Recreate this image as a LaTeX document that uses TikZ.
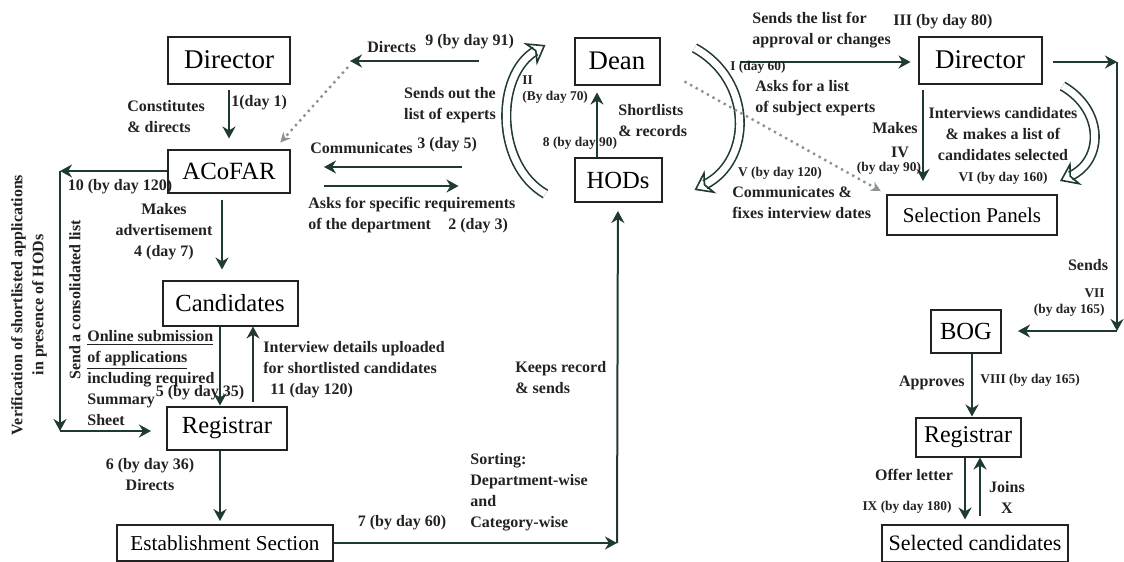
\documentclass[tikz,border=0pt]{standalone}
\usepackage{fontspec}
\setmainfont{Liberation Serif}
\usetikzlibrary{arrows.meta}
\definecolor{ink}{HTML}{222222}
\definecolor{arrowc}{HTML}{1E3A32}
\definecolor{dotc}{HTML}{8C9490}
\begin{document}
\begin{tikzpicture}[x=0.5pt,y=-0.5pt,box/.style={draw=ink,line width=1pt,text=black,inner sep=1pt,font=\fontsize{12.3}{14}\selectfont},lbl/.style={text=ink,inner sep=0pt,font=\fontsize{8}{10.5}\selectfont\bfseries},tiny/.style={text=ink,inner sep=0pt,font=\fontsize{6.7}{8}\selectfont\bfseries},arr/.style={draw=arrowc,line width=1pt,-{Stealth[length=6pt,width=6.5pt]}},dotarr/.style={draw=dotc,line width=1.2pt,dotted,-{Stealth[length=5pt,width=5pt]}},hollow/.style={draw=arrowc,line width=0.8pt,double=white,double distance=3.5pt,-{Stealth[open,length=9pt,width=13pt]}}]
\useasboundingbox (0,0) rectangle (1124,562);
\node[box,minimum width=61pt,minimum height=23.5pt,font=\fontsize{13.5}{15}\selectfont] (dirL) at (229,60) {Director};
\node[box,minimum width=61pt,minimum height=21.5pt,font=\fontsize{12.4}{14}\selectfont] (acofar) at (229,171) {ACoFAR};
\node[box,minimum width=67.5pt,minimum height=22.5pt] (cand) at (230,303) {Candidates};
\node[box,minimum width=60pt,minimum height=21.5pt] (regL) at (227,428) {Registrar};
\node[box,minimum width=108pt,minimum height=18pt,font=\fontsize{10.6}{12}\selectfont] (estab) at (225,543) {Establishment Section};
\node[box,minimum width=42.5pt,minimum height=23.5pt,font=\fontsize{13.4}{15}\selectfont] (dean) at (617,61) {Dean};
\node[box,minimum width=43.5pt,minimum height=22pt] (hods) at (618,180) {HODs};
\node[box,minimum width=61.5pt,minimum height=23.5pt,font=\fontsize{13.5}{15}\selectfont] (dirR) at (980,60) {Director};
\node[box,minimum width=85pt,minimum height=20pt,font=\fontsize{10.5}{12}\selectfont] (selp) at (972,215) {Selection Panels};
\node[box,minimum width=35pt,minimum height=21.5pt] (bog) at (966,331) {BOG};
\node[box,minimum width=52.5pt,minimum height=19.5pt,font=\fontsize{12}{14}\selectfont] (regR) at (968,437) {Registrar};
\node[box,minimum width=93pt,minimum height=18.5pt,font=\fontsize{11}{13}\selectfont] (selc) at (975,543) {Selected candidates};
\coordinate (dirtip) at (350,61);
\coordinate (lc1) at (60,171);
\coordinate (lc2) at (60,431);
\coordinate (c7) at (617,543);
\coordinate (c1s) at (740,62);
\coordinate (rc1) at (1117,62);
\coordinate (rc2) at (1117,331);
\draw[arr,shorten <=2.5pt,shorten >=5pt] (dirL) -- (acofar);
\draw[arr,shorten <=3pt,shorten >=5pt] ([xshift=-3.5pt]acofar.south) -- ([xshift=-4pt]cand.north);
\draw[arr] ([xshift=-5pt]cand.south) -- ([xshift=-3.5pt]regL.north);
\draw[arr,shorten <=2pt] ([xshift=13pt]regL.north) -- ([xshift=11.5pt]cand.south);
\draw[arr,shorten >=1.5pt] ([xshift=-3.5pt]regL.south) -- ([xshift=-2.5pt]estab.north);
\draw[arr] (acofar.west) -- (lc1);
\draw[arr] (lc1) -- (lc2);
\draw[arr,shorten >=7.5pt] (lc2) -- (lc2 -| regL.west);
\draw[arr,shorten <=56pt,shorten >=16.5pt] ([yshift=6.5pt]hods.west) -- ([yshift=2pt]acofar.east);
\draw[arr,shorten <=16.5pt,shorten >=57.5pt] ([yshift=-7.5pt]acofar.east) -- ([yshift=-3pt]hods.west);
\draw[arr,shorten <=47.5pt] (dean.west) -- (dirtip);
\draw[dotarr,shorten >=4pt] ([xshift=-1pt,yshift=-3pt]dirtip) -- ([xshift=-8pt]acofar.north east);
\draw[arr,shorten >=3.5pt] ([xshift=-10.5pt]hods.north) -- ([xshift=-10pt]dean.south);
\draw[arr] (estab.east) -- (c7);
\draw[arr,shorten >=4pt] (c7) -- (hods);
\draw[hollow] ([xshift=-14pt,yshift=-7pt]hods.west) .. controls (495,165) and (495,75) .. ([xshift=-14pt,yshift=8pt]dean.west);
\draw[hollow] ([xshift=17pt,yshift=6.5pt]dean.east) .. controls (753,80) and (753,160) .. ([xshift=16pt,yshift=-5pt]hods.east);
\draw[dotarr,shorten >=3pt] ([xshift=12pt,yshift=2pt]dean.south east) -- (selp.north west);
\draw[arr,shorten >=3.5pt] (c1s) -- ([yshift=-1pt]dirR.west);
\draw[arr,shorten <=2.5pt,shorten >=6.5pt] ([xshift=-28.5pt]dirR.south) -- ([xshift=-24.5pt]selp.north);
\draw[hollow] ([xshift=10pt,yshift=-0.75pt]dirR.south east) .. controls (1104,110) and (1104,160) .. ([xshift=1pt,yshift=6.5pt]selp.north east);
\draw[arr,shorten <=5pt] ([yshift=-1pt]dirR.east) -- (rc1);
\draw[arr] (rc1) -- (rc2);
\draw[arr,shorten >=8pt] (rc2) -- (bog.east);
\draw[arr] ([xshift=3pt]bog.south) -- ([xshift=2pt]regR.north);
\draw[arr,shorten >=2pt] ([xshift=-1.5pt]regR.south) -- ([xshift=-5pt]selc.north);
\draw[arr,shorten <=4pt] ([xshift=2.5pt]selc.north) -- ([xshift=6pt]regR.south);
\node[lbl,align=left,anchor=west] (l1a) at (127,117) {Constitutes\\\& directs};
\node[lbl,anchor=west] (l1b) at (231,103) {1(day 1)};
\node[lbl,anchor=west] (l9a) at (367,47) {Directs};
\node[lbl,anchor=west] (l9b) at (425,42) {9 (by day 91)};
\node[lbl,align=center] (lsend) at (450,105) {Sends out the\\list of experts};
\node[lbl,anchor=west] (l3a) at (310,148) {Communicates};
\node[lbl,anchor=west] (l3b) at (417,145) {3 (day 5)};
\node[lbl,align=left,anchor=west] (l2a) at (308,215) {Asks for specific requirements\\of the department};
\node[lbl,anchor=west] (l2b) at (448,226) {2 (day 3)};
\node[lbl] (l10) at (120,187) {10 (by day 120)};
\node[lbl,align=center] (l4) at (164,232) {Makes\\advertisement\\4 (day 7)};
\node[lbl,align=left,anchor=west,font=\fontsize{8}{10.6}\selectfont\bfseries] (l5a) at (87,378) {\underline{Online submission}\\\underline{of applications}\\including required\\Summary\\Sheet};
\node[lbl] (l5b) at (200,393) {5 (by day 35)};
\node[lbl,align=left,anchor=west] (l11) at (263,370) {Interview details uploaded\\for shortlisted candidates\\\hspace*{3.5pt}11 (day 120)};
\node[lbl,align=center] (l6) at (150,475) {6 (by day 36)\\Directs};
\node[lbl,rotate=90] (lcons) at (75,300) {Send a consolidated list};
\node[lbl,rotate=90,align=center] (lverif) at (29,305) {Verification of shortlisted applications\\in presence of HODs};
\node[lbl,align=left,anchor=west] (lkeep) at (515,378) {Keeps record\\\& sends};
\node[lbl,align=left,anchor=west] (lsort) at (470,492) {Sorting:\\Department-wise\\and\\Category-wise};
\node[lbl] (l7) at (402,523) {7 (by day 60)};
\node[tiny,align=left,anchor=west] (lII) at (522,90) {II\\(By day 70)};
\node[tiny] (l8) at (580,143) {8 (by day 90)};
\node[lbl,align=left,anchor=west] (lshort) at (618,121) {Shortlists\\\& records};
\node[tiny,anchor=west] (lI) at (730,67) {I (day 60)};
\node[lbl,align=left,anchor=west] (lapp) at (752,30) {Sends the list for\\approval or changes};
\node[lbl] (lIII) at (943,22) {III (by day 80)};
\node[lbl,align=left,anchor=west] (lasks) at (755,98) {Asks for a list\\of subject experts};
\node[tiny] (lV) at (780,173) {V (by day 120)};
\node[lbl,align=left,anchor=west] (lfix) at (732,203) {Communicates \&\\fixes interview dates};
\node[lbl,anchor=east] (lmakes) at (918,128) {Makes};
\node[lbl] (lIV) at (900,152) {IV};
\node[tiny] (lIVb) at (889,168) {(by day 90)};
\node[lbl,align=center] (lint) at (1003,146) {Interviews candidates\\\& makes a list of\\candidates selected\\{\fontsize{6.7}{8}\selectfont VI (by day 160)}};
\node[lbl] (lsends) at (1088,265) {Sends};
\node[tiny,align=right,anchor=east] (lVII) at (1105,303) {VII\\(by day 165)};
\node[lbl,anchor=east] (lappr) at (965,383) {Approves};
\node[tiny,anchor=west] (lVIII) at (980,380) {VIII (by day 165)};
\node[lbl] (loffer) at (914,475) {Offer letter};
\node[tiny] (lIX) at (907,507) {IX (by day 180)};
\node[lbl,align=center] (ljoin) at (1007,497) {Joins\\X};
\end{tikzpicture}
\end{document}
